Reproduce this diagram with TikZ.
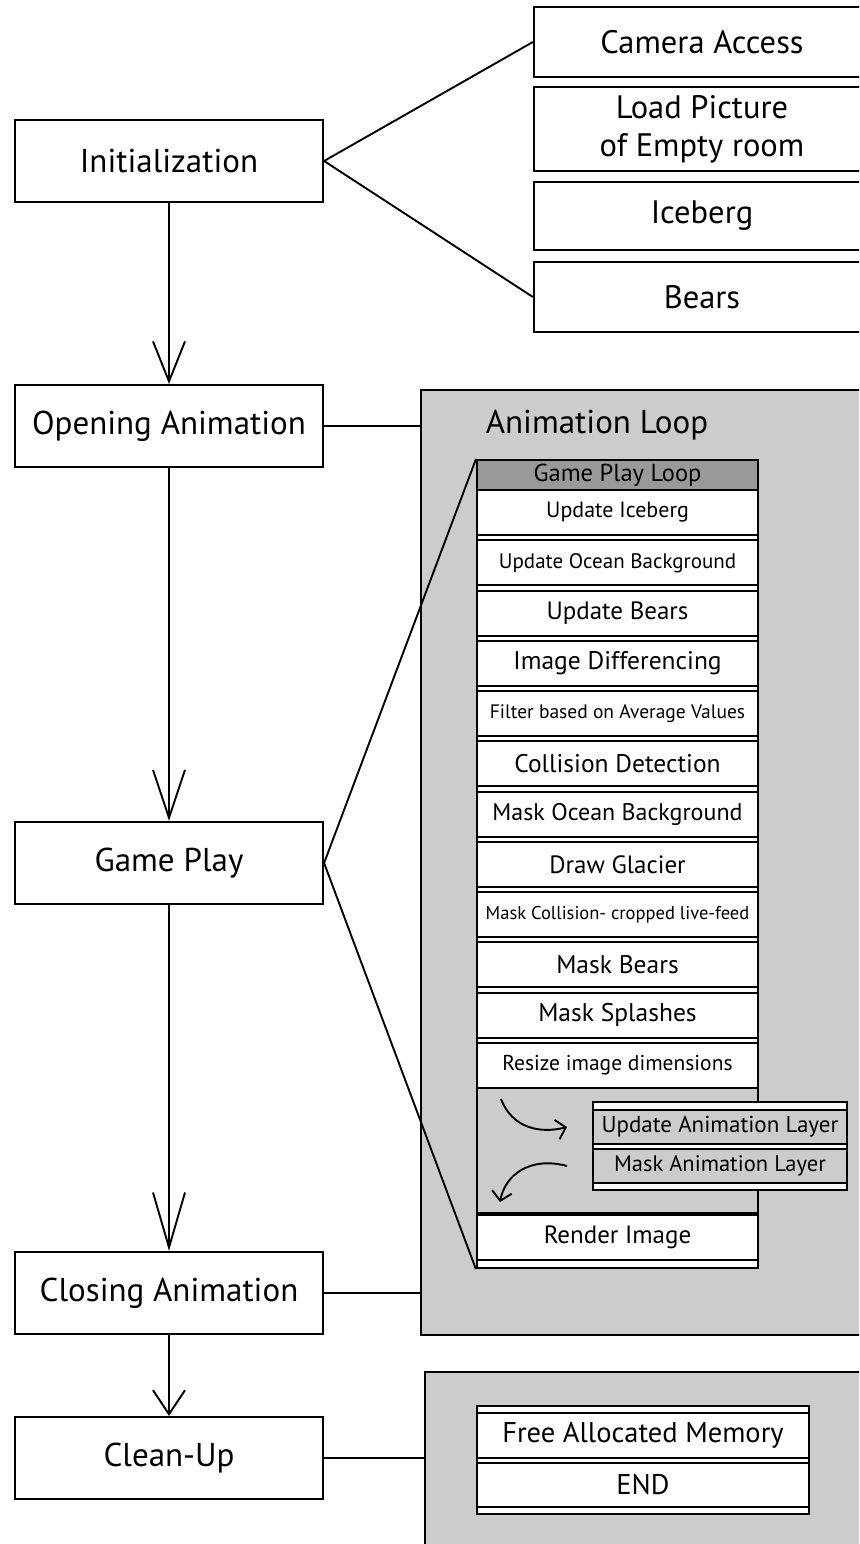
\documentclass[tikz,border=0pt]{standalone}
\usepackage{fontspec}
\setmainfont{PT Sans}
\usetikzlibrary{arrows.meta,positioning}
\definecolor{panelgray}{HTML}{CCCCCC}
\definecolor{headgray}{HTML}{999999}
\newcommand{\fsz}[1]{\fontsize{#1}{#1}\selectfont}

\tikzset{
  mainbox/.style={rectangle, draw, line width=2.2pt, fill=white, minimum width=308pt, minimum height=82pt, inner sep=0pt, font=\fsz{33}},
  sidebox/.style={rectangle, draw, line width=2.2pt, fill=white, minimum width=336pt, inner sep=0pt, align=center, font=\fontsize{32.5}{38}\selectfont},
  panel/.style={rectangle, draw, line width=2.2pt, fill=panelgray, inner sep=0pt},
  rowbox/.style={rectangle, draw, line width=2pt, fill=white, minimum width=281pt, minimum height=45pt, inner sep=0pt},
  link/.style={line width=1.9pt},
  flow/.style={line width=1.9pt, -{Straight Barb[length=#1, width=32pt, line width=1.9pt]}},
  curvearrow/.style={line width=1.9pt, -{Straight Barb[length=9pt, width=20pt]}}
}

\begin{document}
\begin{tikzpicture}[x=1pt, y=-1pt]
  \useasboundingbox (0,0) rectangle (859,1544);
  \clip (0,0) rectangle (859,1544);

  % panels at the right
  \node[panel, minimum width=459pt, minimum height=945pt] (animloop) at (650.5,862.5) {};
  \node[panel, minimum width=455pt, minimum height=188pt] (cleanpanel) at (652.5,1466) {};
  \node[font=\fsz{33}] (looptitle) at (597,425) {Animation Loop};

  % main flow
  \node[mainbox] (init) at (169,161) {Initialization};
  \node[mainbox] (open) at (169,426) {Opening Animation};
  \node[mainbox] (gp) at (169,863) {Game Play};
  \node[mainbox] (close) at (169,1293) {Closing Animation};
  \node[mainbox] (clean) at (169,1458) {Clean-Up};

  \draw[flow=40pt] (init.south) -- (open.north);
  \draw[flow=48pt] (open.south) -- (gp.north);
  \draw[flow=55pt] (gp.south) -- (close.north);
  \draw[flow=24pt] (close.south) -- (clean.north);

  % init items
  \node[sidebox, minimum height=70pt] (camera) at (702,42) {Camera Access};
  \node[sidebox, minimum height=84pt] (loadpic) at (702,129) {Load Picture\\of Empty room};
  \node[sidebox, minimum height=68pt] (iceberg) at (702,216) {Iceberg};
  \node[sidebox, minimum height=70pt] (bears) at (702,297) {Bears};
  \draw[link] (camera.west) -- (init.east) -- (bears.west);

  \draw[link] (open.east) -- (open.east -| animloop.west);
  \draw[link] (close.east) -- (close.east -| animloop.west);
  \draw[link] (clean.east) -- (clean.east -| cleanpanel.west);

  % game play loop column
  \node[rowbox, line width=2.2pt, minimum height=808pt] (loopcol) at (617.5,864) {};
  \node[rowbox, fill=headgray, minimum height=30pt, font=\fsz{24.5}] (head) at (617.5,475) {Game Play Loop};
  \foreach \i/\txt/\s in {1/Update Iceberg/22, 2/Update Ocean Background/21, 3/Update Bears/25,
      4/Image Differencing/25.5, 5/Filter based on Average Values/19.5, 6/Collision Detection/25.5,
      7/Mask Ocean Background/24, 8/Draw Glacier/25, 9/Mask Collision- cropped live-feed/18.5,
      10/Mask Bears/25.5, 11/Mask Splashes/25.5, 12/Resize image dimensions/21.5} {
    \node[rowbox, font=\fsz{\s}] (row\i) at (617.5,{512.5+50.25*(\i-1)}) {\txt};
  }
  \node[rowbox, fill=panelgray, minimum height=125pt] (animgap) at (617.5,1150.5) {};
  \node[rowbox, font=\fsz{25}] (render) at (617.5,1237.5) {Render Image};

  \draw[link] (head.north west) -- (gp.east) -- (loopcol.south west);

  % animation layer
  \node[rowbox, minimum width=254pt, minimum height=88pt] (layers) at (720,1146) {};
  \node[rowbox, fill=panelgray, minimum width=254pt, minimum height=34pt, font=\fsz{23}] (updlayer) at (720,1127) {Update Animation Layer};
  \node[rowbox, fill=panelgray, minimum width=254pt, minimum height=34pt, font=\fsz{22.5}] (masklayer) at (720,1166) {Mask Animation Layer};
  \coordinate (goin) at (501,1099);
  \coordinate (goout) at (500,1202);
  \draw[curvearrow] (goin) .. controls (512,1128) and (540,1134) .. (updlayer.west -| 567,0);
  \draw[curvearrow] (masklayer.west -| 567,0) .. controls (530,1156) and (505,1175) .. (goout);

  % clean-up items
  \node[rowbox, minimum width=332pt, minimum height=108pt] (cleanlist) at (643,1460) {};
  \node[rowbox, minimum width=332pt, font=\fsz{28.5}] (freemem) at (643,1435.5) {Free Allocated Memory};
  \node[rowbox, minimum width=332pt, minimum height=44pt, font=\fsz{28.5}] (endbox) at (643,1485) {END};
\end{tikzpicture}
\end{document}
